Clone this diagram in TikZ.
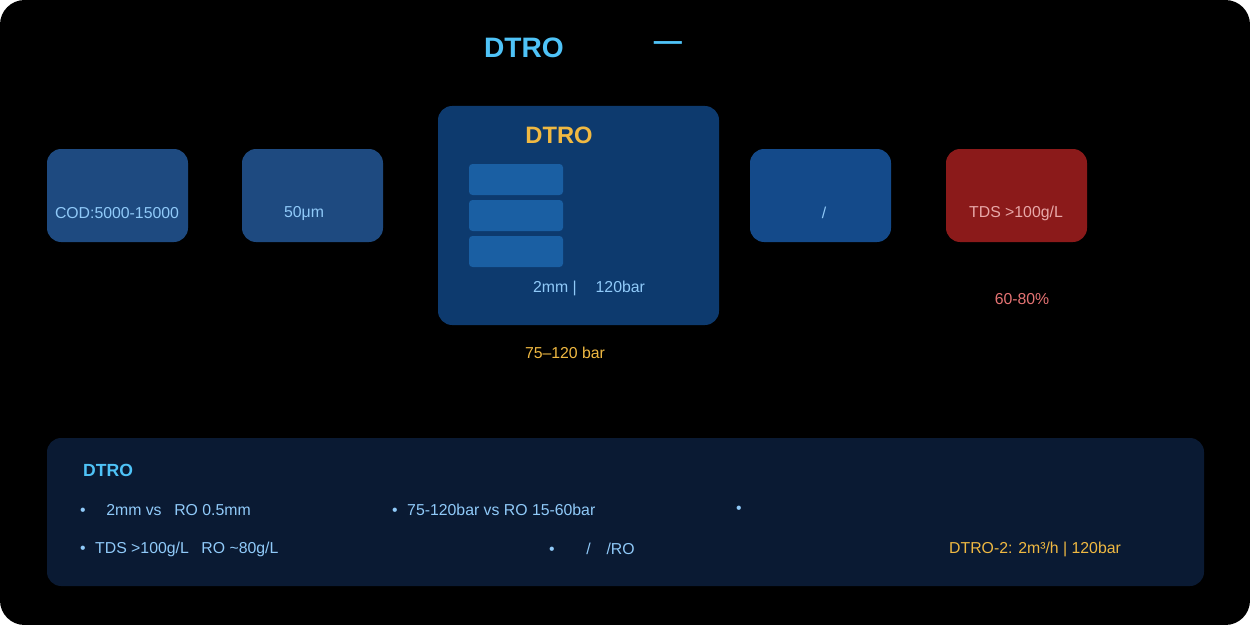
\documentclass[tikz,border=0pt]{standalone}
\usepackage{fontspec}
\setmainfont{Liberation Sans}
\definecolor{bgc}{HTML}{000000}
\definecolor{boxa}{HTML}{1E4A80}
\definecolor{boxd}{HTML}{144A8A}
\definecolor{bigb}{HTML}{0D3A6E}
\definecolor{bar}{HTML}{1A5FA3}
\definecolor{redb}{HTML}{8B1A1A}
\definecolor{panel}{HTML}{0A1A33}
\definecolor{ltxt}{HTML}{90CAF9}
\definecolor{ttl}{HTML}{4FC3F7}
\definecolor{org}{HTML}{F0B942}
\definecolor{redt}{HTML}{E57373}
\definecolor{pinkt}{HTML}{E8A8A8}
\begin{document}
\begin{tikzpicture}[x=0.02cm,y=-0.02cm,
  boxs/.style={rounded corners=8pt},
  lab/.style={font=\fontsize{9}{10}\selectfont,text=ltxt},
  bl/.style={font=\fontsize{9}{10}\selectfont,text=ltxt,anchor=west}]
\useasboundingbox (0,0) rectangle (1250,625);
\fill[white] (0,0) rectangle (1250,625);
\fill[bgc,rounded corners=14pt] (0,0) rectangle (1250,625);
\node[font=\bfseries\fontsize{16}{18}\selectfont,text=ttl] (t1) at (524,48) {DTRO};
\node[font=\bfseries\fontsize{16}{18}\selectfont,text=ttl] (t2) at (668,46) {—};
\fill[boxa,boxs] (47,149) rectangle (188,242);
\node[lab] (b1) at (117,213) {COD:5000-15000};
\fill[boxa,boxs] (242,149) rectangle (383,242);
\node[lab] (b2) at (304,213) {50μm};
\fill[bigb,boxs] (438,106) rectangle (719,325);
\node[font=\bfseries\fontsize{13.5}{15}\selectfont,text=org] (b3) at (559,135) {DTRO};
\fill[bar,rounded corners=2pt] (469,164) rectangle (563,195);
\fill[bar,rounded corners=2pt] (469,200) rectangle (563,231);
\fill[bar,rounded corners=2pt] (469,236) rectangle (563,267);
\node[lab] (b3b) at (589,288) {2mm |\hspace{1.2em}120bar};
\node[lab,text=org] (p) at (565,353) {75–120 bar};
\fill[boxd,boxs] (750,149) rectangle (891,242);
\node[lab] (b4) at (824,213) {/};
\fill[redb,boxs] (946,149) rectangle (1087,242);
\node[lab,text=pinkt] (b5) at (1016,213) {TDS >100g/L};
\node[lab,text=redt] (r) at (1022,299) {60-80\%};
\fill[panel,boxs] (47,438) rectangle (1204,586);
\node[font=\bfseries\fontsize{10}{12}\selectfont,text=ttl,anchor=west] (h) at (77,470) {DTRO};
\node[bl] (l1) at (74,510) {•\hspace{1.3em}2mm vs\hspace{0.8em}RO 0.5mm};
\node[bl] (l2) at (386,510) {•\hspace{0.6em}75-120bar vs RO 15-60bar};
\node[bl] (l3) at (730,510) {•};
\node[bl] (l4) at (74,549) {•\hspace{0.6em}TDS >100g/L\hspace{0.8em}RO \textasciitilde80g/L};
\node[bl] (l5) at (543,549) {•\hspace{2em}/\hspace{1em}/RO};
\node[bl,text=org] (l6) at (943,549) {DTRO-2: 2m³/h | 120bar};
\end{tikzpicture}
\end{document}
